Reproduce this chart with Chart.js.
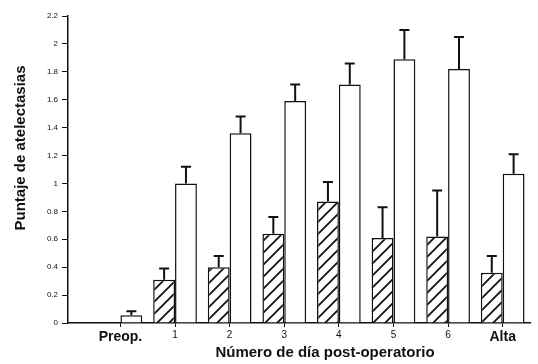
<!DOCTYPE html>
<html lang="es">
<head>
    <meta charset="UTF-8">
    <title>Puntaje de atelectasias</title>
    <script src="https://cdn.jsdelivr.net/npm/chart.js"></script>
    <style>
        body { margin: 0; background: #fff; }
    </style>
</head>
<body>
    <canvas id="chart" width="538" height="364"></canvas>

    <script>
        // Datos
        var categories = ['Preop.', '1', '2', '3', '4', '5', '6', 'Alta'];
        var hatchedValues = [null, 0.31, 0.40, 0.64, 0.87, 0.61, 0.62, 0.36];
        var hatchedSE = [null, 0.08, 0.08, 0.12, 0.14, 0.22, 0.33, 0.12];
        var whiteValues = [0.055, 1.0, 1.36, 1.59, 1.71, 1.89, 1.82, 1.07];
        var whiteSE = [0.03, 0.12, 0.12, 0.12, 0.15, 0.21, 0.23, 0.14];
        var yTicks = [0, 0.2, 0.4, 0.6, 0.8, 1, 1.2, 1.4, 1.6, 1.8, 2, 2.2];

        // hatch pattern "/"
        function makeHatch() {
            var c = document.createElement('canvas');
            c.width = 12; c.height = 12;
            var g = c.getContext('2d');
            g.fillStyle = '#fff';
            g.fillRect(0, 0, 12, 12);
            g.strokeStyle = '#111';
            g.lineWidth = 1.8;
            g.beginPath();
            g.moveTo(-3, 15); g.lineTo(15, -3);
            g.moveTo(-3, 3); g.lineTo(3, -3);
            g.moveTo(9, 15); g.lineTo(15, 9);
            g.stroke();
            return g.createPattern(c, 'repeat');
        }

        function toPoints(values) {
            return values.map(function (v, i) { return { x: i, y: v }; });
        }

        var errorBars = {
            id: 'errorBars',
            afterDatasetsDraw: function (chart) {
                var ctx = chart.ctx;
                var y = chart.scales.y;
                var seList = [hatchedSE, whiteSE];
                ctx.save();
                ctx.strokeStyle = '#111';
                ctx.lineWidth = 2;
                chart.data.datasets.forEach(function (ds, d) {
                    chart.getDatasetMeta(d).data.forEach(function (bar, i) {
                        var v = ds.data[i].y;
                        if (v === null) return;
                        var top = y.getPixelForValue(v + seList[d][i]);
                        ctx.beginPath();
                        ctx.moveTo(bar.x, bar.y);
                        ctx.lineTo(bar.x, top);
                        ctx.moveTo(bar.x - 5, top);
                        ctx.lineTo(bar.x + 5, top);
                        ctx.stroke();
                    });
                });
                ctx.restore();
            }
        };

        var axisTitles = {
            id: 'axisTitles',
            afterDraw: function (chart) {
                var ctx = chart.ctx;
                ctx.save();
                ctx.fillStyle = '#111';
                ctx.font = 'bold 15px "Liberation Sans", Arial, sans-serif';
                ctx.textAlign = 'center';
                ctx.textBaseline = 'middle';
                ctx.fillText('Número de día post-operatorio', 325, 353);
                ctx.translate(21, 148);
                ctx.rotate(-Math.PI / 2);
                ctx.fillText('Puntaje de atelectasias', 0, 0);
                ctx.restore();
            }
        };

        var ctx = document.getElementById('chart').getContext('2d');
        new Chart(ctx, {
            type: 'bar',
            data: {
                datasets: [{
                    data: toPoints(hatchedValues),
                    backgroundColor: makeHatch(),
                    borderColor: '#111',
                    borderWidth: 1.5
                }, {
                    data: toPoints(whiteValues),
                    backgroundColor: '#fff',
                    borderColor: '#111',
                    borderWidth: 1.5
                }]
            },
            options: {
                responsive: false,
                devicePixelRatio: 1,
                animation: false,
                categoryPercentage: 0.8,
                barPercentage: 1.0,
                layout: { padding: { top: 16, right: 8, left: 0, bottom: 0 } },
                plugins: {
                    legend: { display: false },
                    tooltip: { enabled: false }
                },
                scales: {
                    x: {
                        type: 'linear',
                        min: -0.96,
                        max: 7.5,
                        offset: false,
                        afterBuildTicks: function (scale) {
                            scale.ticks = categories.map(function (c, i) { return { value: i }; });
                        },
                        afterFit: function (scale) { scale.height = 41; },
                        grid: { display: true, offset: false, drawOnChartArea: false, tickLength: 4, color: '#111', lineWidth: 1 },
                        border: { display: true, color: '#111', width: 1.5 },
                        ticks: {
                            color: '#111',
                            padding: 2,
                            maxRotation: 0,
                            autoSkip: false,
                            callback: function (v) { return categories[v]; },
                            font: function (c) {
                                var lbl = categories[c.index];
                                if (lbl && lbl.length > 1) return { family: '"Liberation Sans", Arial, sans-serif', size: 14, weight: 'bold' };
                                return { family: '"Liberation Sans", Arial, sans-serif', size: 10 };
                            }
                        }
                    },
                    y: {
                        min: 0,
                        max: 2.2,
                        afterBuildTicks: function (scale) {
                            scale.ticks = yTicks.map(function (v) { return { value: v }; });
                        },
                        afterFit: function (scale) { scale.width = 68; },
                        grid: { display: true, drawOnChartArea: false, tickLength: 6, color: '#111', lineWidth: 1 },
                        border: { display: true, color: '#111', width: 1.5 },
                        ticks: {
                            color: '#111',
                            padding: 4,
                            font: { family: '"Liberation Sans", Arial, sans-serif', size: 8 },
                            callback: function (v) { return String(Math.round(v * 10) / 10); }
                        }
                    }
                }
            },
            plugins: [errorBars, axisTitles]
        });
    </script>
</body>
</html>
